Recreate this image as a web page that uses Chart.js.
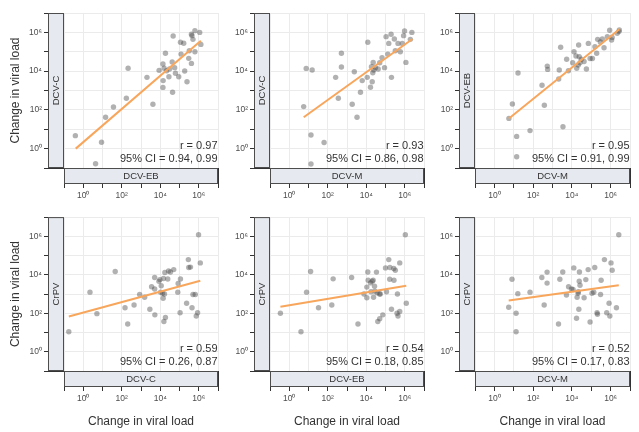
<!DOCTYPE html>
<html>
<head>
<meta charset="utf-8">
<script src="https://cdn.jsdelivr.net/npm/chart.js@4.4.1/dist/chart.umd.min.js"></script>
<style>
  html, body { margin: 0; padding: 0; background: #ffffff; }
  body { width: 639px; height: 432px; position: relative; overflow: hidden; }
  canvas { position: absolute; }
</style>
</head>
<body>
<script>
// ---------------- DATA (log10 of change in viral load) ----------------
const tickExponents = [-1, 0, 1, 2, 3, 4, 5, 6, 7];
const axisTitle = 'Change in viral load';

const xStripLabels = ['DCV-EB', 'DCV-M', 'DCV-M', 'DCV-C', 'DCV-EB', 'DCV-M'];
const yStripLabels = ['DCV-C', 'DCV-C', 'DCV-EB', 'CrPV', 'CrPV', 'CrPV'];
const rValues  = ['0.97', '0.93', '0.95', '0.59', '0.54', '0.52'];
const ciValues = ['0.94, 0.99', '0.86, 0.98', '0.91, 0.99', '0.26, 0.87', '0.18, 0.85', '0.17, 0.83'];

// Panel 1: DCV-C vs DCV-EB
const p1LogX = [-0.41,0.64,0.95,1.16,1.57,2.24,2.33,3.31,3.62,4.14,4.15,3.94,4.14,4.27,4.20,4.33,4.45,4.48,4.62,4.64,4.67,4.75,4.79,4.96,5.05,5.08,5.22,5.27,5.39,5.48,5.51,5.62,5.62,5.70,5.65,5.80,5.80,6.05,6.11];
const p1LogY = [0.67,-0.78,0.33,1.62,2.15,2.60,4.15,3.68,2.29,3.16,3.51,4.04,4.37,4.92,4.15,4.02,3.71,4.11,4.47,2.91,5.81,4.18,3.89,3.71,5.49,4.88,5.44,4.01,3.45,4.66,5.05,4.40,5.90,5.64,5.83,6.09,5.00,6.00,5.38];
const p1FitLogX = [-0.39, 6.11];
const p1FitLogY = [0.00, 5.57];

// Panel 2: DCV-C vs DCV-M
const p2LogX = [0.75,0.88,1.13,1.13,1.19,1.81,2.41,2.55,2.71,2.71,3.27,3.38,3.52,3.70,3.79,4.05,4.08,4.22,4.27,4.31,4.34,4.36,4.39,4.48,4.62,4.70,4.82,4.95,5.03,5.12,5.17,5.29,5.31,5.46,5.51,5.65,5.77,5.94,5.99,6.06,6.29,6.37,5.87];
const p2LogY = [2.17,4.14,0.70,-0.79,4.06,0.32,3.68,2.60,4.92,4.21,2.29,3.97,1.62,2.91,3.51,3.68,5.49,3.17,4.23,3.45,3.92,4.45,4.06,4.18,4.11,4.43,4.69,4.18,5.78,4.88,5.43,5.90,3.68,5.66,5.05,5.43,5.00,5.83,6.07,4.45,5.64,6.00,5.43];
const p2FitLogX = [0.75, 6.40];
const p2FitLogY = [1.62, 5.66];

// Panel 3: DCV-EB vs DCV-M
const p3LogX = [0.75,0.93,1.15,1.15,1.22,1.84,2.46,2.58,2.73,2.75,3.32,3.35,3.42,3.54,3.73,3.82,4.04,4.11,4.21,4.25,4.35,4.33,4.38,4.42,4.49,4.63,4.75,4.85,4.94,5.06,5.19,5.28,5.33,5.47,5.57,5.66,5.83,5.95,6.05,6.08,6.34,6.43,6.45];
const p3LogY = [1.56,2.30,0.63,-0.42,3.90,0.93,3.27,2.24,4.26,4.09,3.59,4.06,5.23,1.13,4.61,4.02,4.43,5.00,4.78,4.15,5.35,4.32,4.74,4.43,4.61,4.50,4.11,5.43,4.65,4.65,5.26,4.92,5.64,5.50,5.66,5.21,5.78,6.11,5.61,5.74,5.95,6.04,6.12];
const p3FitLogX = [0.75, 6.45];
const p3FitLogY = [1.55, 6.16];

// Panel 4: CrPV vs DCV-C
const p4LogX = [-0.75,0.35,0.71,1.66,2.17,2.31,2.64,2.93,3.19,3.46,3.55,3.71,3.71,3.72,3.93,3.98,4.05,4.02,4.12,4.15,4.17,4.19,4.27,4.24,4.22,4.39,4.43,4.53,4.70,4.93,4.91,5.05,5.03,5.37,5.46,5.48,5.57,5.65,5.70,5.82,5.87,5.94,5.99,6.08];
const p4LogY = [1.04,3.10,1.98,4.17,2.29,1.44,2.43,2.98,2.83,2.21,3.38,3.26,3.86,1.92,3.66,3.75,3.43,3.10,3.04,2.78,3.81,1.57,1.78,4.12,3.00,3.78,4.20,4.15,4.27,3.55,3.10,3.78,2.03,2.52,4.79,4.38,4.40,2.29,2.98,2.98,1.86,2.03,6.08,4.62];
const p4FitLogX = [-0.75, 6.08];
const p4FitLogY = [1.83, 3.69];

// Panel 5: CrPV vs DCV-EB
const p5LogX = [-0.46,0.61,0.90,1.11,1.52,2.21,2.28,3.24,3.57,3.88,4.03,4.03,4.08,4.10,4.22,4.25,4.31,4.36,4.38,4.43,4.45,4.53,4.56,4.60,4.69,4.70,4.73,4.86,5.00,5.05,5.17,5.23,5.22,5.31,5.43,5.44,5.51,5.62,5.60,5.65,5.74,5.74,6.03,6.08];
const p5LogY = [2.00,1.04,3.10,4.17,2.29,2.43,3.79,3.86,1.44,3.00,3.36,2.81,4.15,3.72,3.58,3.12,3.67,3.72,2.83,3.41,3.15,4.14,3.07,1.57,3.00,1.72,3.00,1.92,4.36,3.12,4.79,4.38,3.77,2.21,4.33,3.72,4.24,3.00,2.00,1.86,2.09,4.62,6.08,2.52];
const p5FitLogX = [-0.46, 6.08];
const p5FitLogY = [2.34, 3.43];

// Panel 6: CrPV vs DCV-M
const p6LogX = [0.74,0.91,1.12,1.12,1.21,1.84,2.45,2.57,2.72,2.72,3.31,3.38,3.53,3.72,3.83,3.98,4.06,4.10,4.24,4.27,4.32,4.33,4.36,4.38,4.39,4.42,4.63,4.72,4.84,4.94,5.04,5.13,5.18,5.30,5.32,5.48,5.51,5.68,5.80,5.96,5.92,6.02,6.08,6.30,6.42];
const p6LogY = [2.31,3.77,2.00,1.04,3.02,3.10,3.86,2.43,4.14,3.57,1.44,3.77,4.15,2.95,3.38,3.26,3.24,4.36,1.74,2.83,3.04,3.12,2.21,3.67,4.15,3.46,2.81,3.75,4.27,1.55,3.04,3.10,4.38,2.03,1.95,2.98,3.72,4.79,2.03,1.86,2.52,4.62,4.24,2.29,6.08];
const p6FitLogX = [0.74, 6.42];
const p6FitLogY = [2.67, 3.46];

const panelX = [p1LogX, p2LogX, p3LogX, p4LogX, p5LogX, p6LogX];
const panelY = [p1LogY, p2LogY, p3LogY, p4LogY, p5LogY, p6LogY];
const fitX = [p1FitLogX, p2FitLogX, p3FitLogX, p4FitLogX, p5FitLogX, p6FitLogX];
const fitY = [p1FitLogY, p2FitLogY, p3FitLogY, p4FitLogY, p5FitLogY, p6FitLogY];

// ---------------- LAYOUT ----------------
const colX = [0, 222, 428];       // canvas left per column
const colW = [222, 206, 211];
const rowY = [0, 210];
const rowH = [210, 222];
const areaLeft = [64, 270, 475];  // plot area left per column
const areaTop = [13, 216];        // plot area top per row
const AREA = 155;
const STRIP = 16;
const TICK = 4;

const SUP = {'-':'\u207B','0':'\u2070','1':'\u00B9','2':'\u00B2','3':'\u00B3','4':'\u2074','5':'\u2075','6':'\u2076','7':'\u2077','8':'\u2078','9':'\u2079'};
function tickLabel(v) {
  const e = Math.round(Math.log10(v));
  if (e % 2 !== 0) return '';
  return '10' + String(e).split('').map(ch => SUP[ch]).join('');
}
function decadeTicks(scale) {
  scale.ticks = tickExponents.map(e => ({ value: Math.pow(10, e) }));
}

const FONT = "'Liberation Sans', Arial, Helvetica, sans-serif";

const stripPlugin = {
  id: 'strips',
  afterDraw(chart, args, opts) {
    const ctx = chart.ctx, a = chart.chartArea;
    ctx.save();
    // left (y) strip
    ctx.fillStyle = '#e6e9ef';
    ctx.strokeStyle = '#4d4d4d';
    ctx.lineWidth = 1;
    ctx.fillRect(a.left - STRIP, a.top, STRIP, a.bottom - a.top);
    ctx.strokeRect(a.left - STRIP + 0.5, a.top + 0.5, STRIP - 1, a.bottom - a.top - 1);
    // bottom (x) strip
    ctx.fillRect(a.left, a.bottom, a.right - a.left, STRIP);
    ctx.strokeRect(a.left + 0.5, a.bottom + 0.5, a.right - a.left - 1, STRIP - 1);
    ctx.fillStyle = '#333333';
    ctx.font = '9.5px ' + FONT;
    ctx.textAlign = 'center';
    ctx.textBaseline = 'middle';
    ctx.fillText(opts.xLabel, (a.left + a.right) / 2, a.bottom + STRIP / 2 + 0.5);
    ctx.save();
    ctx.translate(a.left - STRIP / 2 + 0.5, (a.top + a.bottom) / 2);
    ctx.rotate(-Math.PI / 2);
    ctx.fillText(opts.yLabel, 0, 0);
    ctx.restore();
    // correlation annotation
    ctx.font = '11px ' + FONT;
    ctx.textAlign = 'right';
    ctx.fillStyle = '#333333';
    ctx.fillText('r = ' + opts.r, a.right - 0.5, a.bottom - 22);
    ctx.fillText('95% CI = ' + opts.ci, a.right - 0.5, a.bottom - 9.5);
    ctx.restore();
  }
};

function makePanel(i) {
  const c = i % 3, r = Math.floor(i / 3);
  const cv = document.createElement('canvas');
  cv.width = colW[c]; cv.height = rowH[r];
  cv.style.left = colX[c] + 'px'; cv.style.top = rowY[r] + 'px';
  cv.style.width = colW[c] + 'px'; cv.style.height = rowH[r] + 'px';
  document.body.appendChild(cv);

  const yScaleW = areaLeft[c] - colX[c];
  const padTop = areaTop[r] - rowY[r];
  const padRight = colX[c] + colW[c] - (areaLeft[c] + AREA);
  const xScaleH = rowY[r] + rowH[r] - (areaTop[r] + AREA);

  const pts = panelX[i].map((lx, k) => ({ x: Math.pow(10, lx), y: Math.pow(10, panelY[i][k]) }));
  const fit = fitX[i].map((lx, k) => ({ x: Math.pow(10, lx), y: Math.pow(10, fitY[i][k]) }));

  const gridCommon = { color: '#ebebeb', lineWidth: 1, tickColor: '#333333', tickLength: STRIP + TICK, drawTicks: true };
  const tickFont = { family: FONT, size: 8.5 };

  new Chart(cv, {
    type: 'scatter',
    data: {
      datasets: [
        { type: 'line', data: fit, borderColor: '#f8a65c', borderWidth: 2, pointRadius: 0, fill: false, tension: 0, order: 0 },
        { type: 'scatter', data: pts, backgroundColor: 'rgba(70,70,70,0.42)', borderWidth: 0, pointRadius: 2.7, order: 1 }
      ]
    },
    options: {
      animation: false, responsive: false, devicePixelRatio: 1,
      layout: { padding: { left: 0, top: padTop, right: padRight, bottom: 0 } },
      plugins: {
        legend: { display: false }, tooltip: { enabled: false },
        strips: { xLabel: xStripLabels[i], yLabel: yStripLabels[i], r: rValues[i], ci: ciValues[i] }
      },
      scales: {
        x: {
          type: 'logarithmic', position: 'bottom', min: 1e-1, max: 1e7,
          afterBuildTicks: decadeTicks,
          afterFit(s) { s.height = xScaleH; },
          grid: gridCommon, border: { display: false },
          ticks: { callback: tickLabel, autoSkip: false, maxRotation: 0, minRotation: 0, padding: 3, color: '#4d4d4d', font: tickFont },
          title: { display: r === 1, text: axisTitle, color: '#333333', font: { family: FONT, size: 12 }, padding: { top: 0, bottom: 3 } }
        },
        y: {
          type: 'logarithmic', position: 'left', min: 1e-1, max: 1e7,
          afterBuildTicks: decadeTicks,
          afterFit(s) { s.width = yScaleW; },
          grid: gridCommon, border: { display: false },
          ticks: { callback: tickLabel, autoSkip: false, padding: 2, color: '#4d4d4d', font: tickFont },
          title: { display: c === 0, text: axisTitle, color: '#333333', font: { family: FONT, size: 12 }, padding: { top: 8, bottom: 0 } }
        }
      }
    },
    plugins: [stripPlugin]
  });
}

for (let i = 0; i < 6; i++) makePanel(i);
</script>
</body>
</html>
